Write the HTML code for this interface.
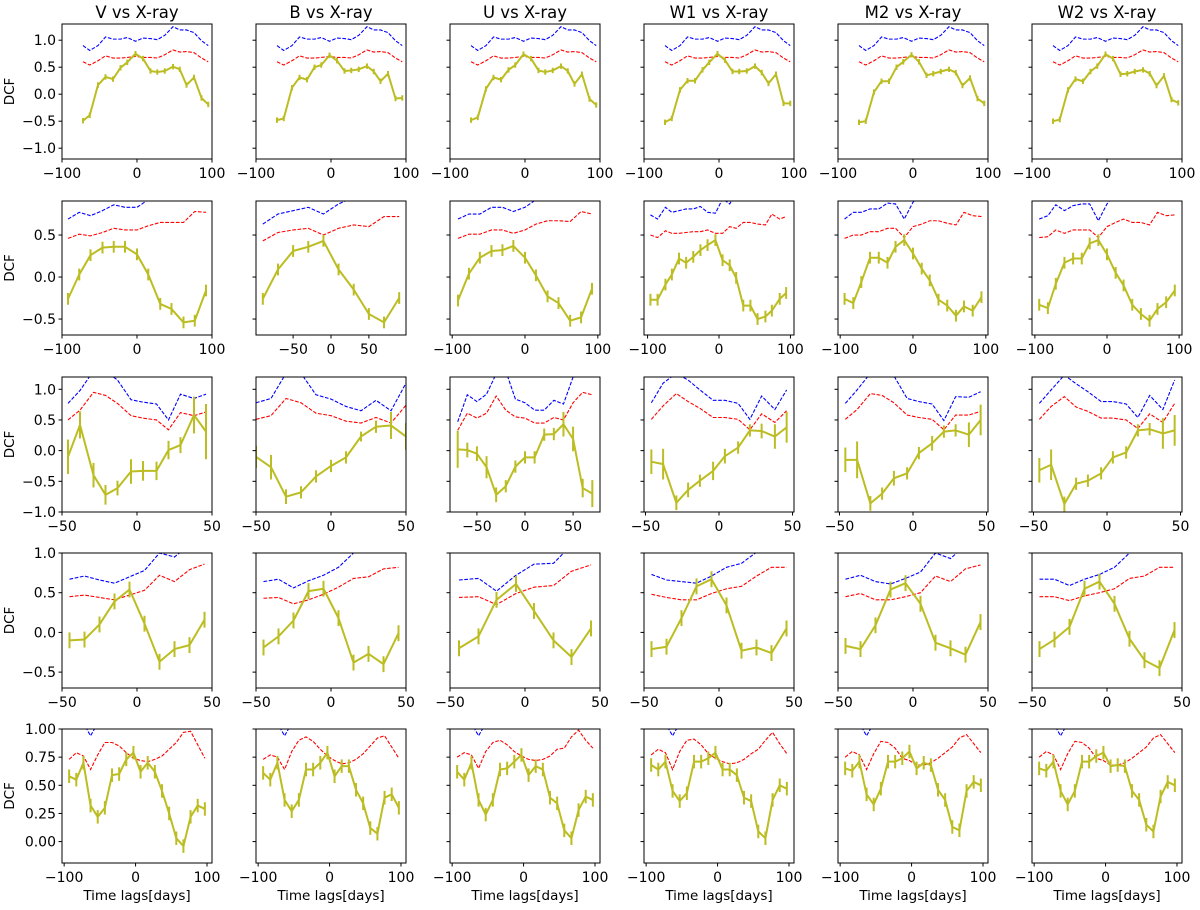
<!DOCTYPE html>
<html><head><meta charset="utf-8"><title>DCF grid</title>
<style>html,body{margin:0;padding:0;background:#fff}svg{display:block}text{font-family:"DejaVu Sans","Liberation Sans",sans-serif;fill:#000}</style>
</head><body>
<svg id="fig" width="1200" height="910" viewBox="0 0 1200 910" xmlns="http://www.w3.org/2000/svg"></svg>
<script>
// ---------- data ----------
const TITLES = ["V vs X-ray","B vs X-ray","U vs X-ray","W1 vs X-ray","M2 vs X-ray","W2 vs X-ray"];
const ROW_ERR = [0.05,0.07,0.15,0.1,0.06];

// Row 1
const R1_LAGS = [-72,-63,-52,-42,-32,-22,-13,-2,8,18,27,37,48,57,66,76,86,95];
const R1_V  = [-0.49,-0.39,0.17,0.32,0.28,0.49,0.59,0.75,0.66,0.43,0.41,0.43,0.51,0.46,0.17,0.31,-0.07,-0.19];
const R1_B  = [-0.48,-0.45,0.12,0.31,0.27,0.5,0.54,0.72,0.62,0.43,0.44,0.46,0.52,0.42,0.24,0.38,-0.08,-0.07];
const R1_U  = [-0.48,-0.43,0.1,0.31,0.27,0.45,0.54,0.74,0.66,0.44,0.41,0.44,0.52,0.43,0.19,0.37,-0.09,-0.2];
const R1_W1 = [-0.52,-0.45,0.08,0.25,0.25,0.45,0.59,0.75,0.63,0.42,0.42,0.43,0.52,0.4,0.2,0.37,-0.17,-0.17];
const R1_M2 = [-0.52,-0.5,0.04,0.24,0.24,0.5,0.6,0.73,0.6,0.35,0.38,0.42,0.46,0.4,0.16,0.3,-0.08,-0.17];
const R1_W2 = [-0.5,-0.47,0.08,0.28,0.24,0.42,0.52,0.74,0.66,0.37,0.38,0.42,0.45,0.38,0.16,0.34,-0.1,-0.16];
const R1_RED  = [0.60,0.54,0.62,0.71,0.67,0.67,0.68,0.70,0.68,0.68,0.67,0.73,0.82,0.78,0.79,0.77,0.67,0.60];
const R1_BLUE = [0.90,0.81,0.90,1.06,1.02,1.02,1.05,0.98,1.04,1.03,1.01,1.09,1.25,1.19,1.19,1.14,0.99,0.90];

// Row 2
const R2_LAGS13 = [-92,-77,-62,-46,-31,-16,0,15,31,46,62,77,92];
const R2_LAGS10 = [-90,-70,-50,-30,-10,10,30,50,70,90];
const R2_LAGS20 = [-96,-86,-75,-66,-56,-46,-36,-26,-16,-5,5,15,24,34,44,54,65,74,85,94];
const R2_LAGS17 = [-94,-82,-71,-59,-47,-35,-24,-12,0,12,23,35,47,59,70,82,94];
const R2_V  = [-0.26,0.03,0.26,0.35,0.36,0.36,0.27,0.03,-0.32,-0.38,-0.54,-0.52,-0.16];
const R2_V_RED  = [0.46,0.51,0.49,0.53,0.58,0.56,0.56,0.61,0.65,0.65,0.65,0.78,0.77];
const R2_V_BLUE = [0.69,0.77,0.73,0.79,0.86,0.83,0.83,0.92,1.0,1.05,1.1,1.1,1.1];
const R2_B  = [-0.26,0.09,0.31,0.36,0.43,0.09,-0.15,-0.44,-0.54,-0.25];
const R2_B_RED  = [0.43,0.53,0.56,0.58,0.5,0.58,0.62,0.6,0.72,0.72];
const R2_B_BLUE = [0.63,0.75,0.79,0.83,0.75,0.87,0.95,1.0,1.0,1.0];
const R2_U  = [-0.28,0.04,0.23,0.31,0.32,0.37,0.23,0.02,-0.23,-0.31,-0.52,-0.48,-0.14];
const R2_U_RED  = [0.46,0.51,0.51,0.56,0.56,0.52,0.56,0.63,0.67,0.67,0.66,0.78,0.75];
const R2_U_BLUE = [0.69,0.75,0.75,0.83,0.83,0.78,0.83,0.92,1.0,1.05,1.1,1.1,1.1];
const R2_W1 = [-0.27,-0.27,-0.09,0.03,0.22,0.17,0.24,0.32,0.38,0.44,0.2,0.14,-0.01,-0.34,-0.34,-0.5,-0.47,-0.4,-0.26,-0.19];
const R2_W1_RED  = [0.5,0.47,0.55,0.52,0.52,0.53,0.54,0.54,0.56,0.52,0.52,0.6,0.58,0.65,0.65,0.63,0.62,0.75,0.69,0.72];
const R2_W1_BLUE = [0.74,0.69,0.83,0.77,0.79,0.81,0.81,0.84,0.77,0.76,0.93,0.87,1.0,1.05,1.1,1.1,1.1,1.1,1.1,1.1];
const R2_M2 = [-0.26,-0.31,-0.06,0.23,0.23,0.17,0.36,0.44,0.28,0.1,-0.04,-0.27,-0.34,-0.46,-0.35,-0.4,-0.24];
const R2_M2_RED  = [0.46,0.5,0.5,0.54,0.54,0.58,0.58,0.47,0.6,0.63,0.67,0.67,0.64,0.62,0.77,0.73,0.72];
const R2_M2_BLUE = [0.69,0.77,0.77,0.81,0.81,0.88,0.87,0.69,0.89,1.0,1.05,1.1,1.1,1.1,1.1,1.1,1.1];
const R2_W2 = [-0.33,-0.37,-0.08,0.17,0.22,0.22,0.4,0.44,0.27,0.05,-0.1,-0.33,-0.44,-0.52,-0.38,-0.3,-0.16];
const R2_W2_RED  = [0.47,0.48,0.56,0.52,0.56,0.56,0.56,0.47,0.6,0.65,0.69,0.65,0.65,0.62,0.77,0.73,0.74];
const R2_W2_BLUE = [0.69,0.73,0.86,0.79,0.85,0.87,0.87,0.67,0.87,1.0,1.05,1.1,1.1,1.1,1.1,1.1,1.1];

// Row 3
const R3_LAGS12 = [-46,-38,-29,-21,-13,-4,4,13,21,29,38,46];
const R3_LAGS11 = [-50,-40,-30,-20,-10,0,10,20,30,40,50];
const R3_LAGS15 = [-70,-60,-50,-40,-30,-20,-10,0,10,20,30,40,50,60,70];
const R3_V  = [-0.1,0.42,-0.4,-0.72,-0.61,-0.34,-0.33,-0.33,0.01,0.09,0.58,0.31];
const R3_V_ERR = [0.28,0.22,0.2,0.16,0.12,0.2,0.16,0.15,0.15,0.13,0.3,0.45];
const R3_V_RED  = [0.5,0.66,0.95,0.9,0.77,0.57,0.53,0.5,0.34,0.62,0.57,0.63];
const R3_V_BLUE = [0.77,0.98,1.3,1.3,1.15,0.83,0.79,0.76,0.5,0.92,0.85,0.92];
const R3_B  = [-0.1,-0.27,-0.75,-0.68,-0.42,-0.25,-0.11,0.23,0.39,0.41,0.23];
const R3_B_ERR = [0.18,0.2,0.12,0.1,0.1,0.1,0.1,0.08,0.1,0.22,0.22];
const R3_B_RED  = [0.51,0.57,0.85,0.78,0.61,0.57,0.48,0.45,0.54,0.45,0.74];
const R3_B_BLUE = [0.78,0.85,1.26,1.26,0.91,0.84,0.72,0.65,0.82,0.65,1.1];
const R3_U  = [0.02,0.01,-0.05,-0.27,-0.72,-0.58,-0.26,-0.11,-0.11,0.26,0.27,0.43,0.19,-0.61,-0.7];
const R3_U_ERR = [0.3,0.12,0.12,0.18,0.12,0.1,0.1,0.1,0.1,0.1,0.1,0.2,0.2,0.15,0.22];
const R3_U_RED  = [0.33,0.61,0.53,0.61,0.89,0.66,0.55,0.53,0.45,0.45,0.54,0.5,0.78,0.95,0.91];
const R3_U_BLUE = [0.47,0.91,0.8,0.92,1.25,1.3,0.84,0.78,0.66,0.66,0.82,0.76,1.2,1.3,1.3];
const R3_W1 = [-0.18,-0.22,-0.85,-0.64,-0.49,-0.33,-0.09,0.05,0.33,0.32,0.23,0.38];
const R3_W1_ERR = [0.2,0.25,0.12,0.12,0.1,0.15,0.12,0.1,0.1,0.12,0.2,0.25];
const R3_W1_RED  = [0.51,0.73,0.93,0.8,0.69,0.54,0.54,0.51,0.34,0.6,0.46,0.65];
const R3_W1_BLUE = [0.78,1.1,1.26,1.15,0.99,0.82,0.82,0.77,0.51,0.89,0.67,0.99];
const R3_M2 = [-0.15,-0.15,-0.86,-0.7,-0.45,-0.37,-0.04,0.12,0.31,0.33,0.26,0.5];
const R3_M2_ERR = [0.2,0.3,0.12,0.1,0.12,0.1,0.1,0.12,0.1,0.1,0.2,0.25];
const R3_M2_RED  = [0.51,0.67,0.93,0.9,0.78,0.58,0.54,0.51,0.34,0.58,0.58,0.64];
const R3_M2_BLUE = [0.77,0.99,1.26,1.26,1.22,0.85,0.8,0.76,0.49,0.88,0.87,0.96];
const R3_W2 = [-0.32,-0.23,-0.87,-0.54,-0.49,-0.37,-0.11,-0.03,0.33,0.35,0.28,0.33];
const R3_W2_ERR = [0.2,0.25,0.12,0.1,0.1,0.1,0.1,0.1,0.1,0.1,0.25,0.25];
const R3_W2_RED  = [0.51,0.72,0.88,0.71,0.64,0.53,0.53,0.5,0.36,0.6,0.46,0.77];
const R3_W2_BLUE = [0.77,0.99,1.23,1.09,0.96,0.8,0.8,0.76,0.54,0.9,0.67,1.15];

// Row 4
const R4_LAGS10 = [-45,-35,-25,-15,-5,5,15,25,35,45];
const R4_LAGS8 = [-44,-31,-19,-6,6,19,31,44];
const R4_V  = [-0.1,-0.09,0.1,0.39,0.54,0.11,-0.37,-0.21,-0.16,0.16];
const R4_V_RED  = [0.45,0.47,0.44,0.41,0.47,0.53,0.72,0.64,0.79,0.86];
const R4_V_BLUE = [0.67,0.71,0.66,0.62,0.7,0.78,1.0,0.95,1.1,1.2];
const R4_B  = [-0.19,-0.05,0.15,0.52,0.55,0.18,-0.38,-0.27,-0.4,-0.01];
const R4_B_RED  = [0.43,0.44,0.36,0.41,0.48,0.57,0.68,0.7,0.8,0.82];
const R4_B_BLUE = [0.64,0.67,0.56,0.65,0.72,0.82,1.0,1.1,1.2,1.2];
const R4_U  = [-0.2,-0.05,0.41,0.61,0.27,-0.1,-0.31,0.05];
const R4_U_RED  = [0.44,0.45,0.35,0.49,0.57,0.59,0.77,0.85];
const R4_U_BLUE = [0.66,0.68,0.52,0.72,0.86,0.87,1.1,1.2];
const R4_W1 = [-0.21,-0.18,0.18,0.58,0.67,0.34,-0.23,-0.19,-0.26,0.05];
const R4_W1_RED  = [0.48,0.44,0.41,0.41,0.49,0.55,0.58,0.71,0.82,0.82];
const R4_W1_BLUE = [0.73,0.66,0.64,0.62,0.71,0.82,0.87,1.01,1.1,1.2];
const R4_M2 = [-0.17,-0.21,0.09,0.54,0.62,0.36,-0.13,-0.2,-0.28,0.13];
const R4_M2_RED  = [0.45,0.49,0.41,0.41,0.45,0.5,0.71,0.64,0.8,0.85];
const R4_M2_BLUE = [0.67,0.72,0.64,0.61,0.68,0.76,1.0,0.93,1.1,1.2];
const R4_W2 = [-0.21,-0.09,0.07,0.55,0.64,0.36,-0.08,-0.35,-0.45,0.03];
const R4_W2_RED  = [0.45,0.45,0.4,0.46,0.5,0.55,0.68,0.71,0.82,0.82];
const R4_W2_BLUE = [0.67,0.67,0.59,0.67,0.73,0.82,1.0,1.1,1.2,1.2];

// Row 5
const R5_LAGS = [-93,-83,-73,-63,-53,-43,-33,-23,-13,-3,7,17,27,37,47,57,67,77,87,97];
const R5_V  = [0.58,0.55,0.7,0.32,0.22,0.3,0.59,0.6,0.73,0.79,0.62,0.7,0.62,0.45,0.25,0.03,-0.04,0.22,0.32,0.29];
const R5_V_RED = [0.73,0.79,0.76,0.64,0.77,0.88,0.88,0.85,0.79,0.74,0.72,0.71,0.73,0.76,0.82,0.88,0.97,0.98,0.86,0.74];
const R5_B  = [0.61,0.55,0.7,0.37,0.27,0.37,0.64,0.64,0.7,0.79,0.58,0.67,0.67,0.46,0.34,0.12,0.07,0.39,0.42,0.3];
const R5_B_RED = [0.73,0.77,0.75,0.64,0.8,0.9,0.93,0.89,0.82,0.76,0.72,0.69,0.7,0.73,0.78,0.85,0.92,0.94,0.84,0.74];
const R5_U  = [0.62,0.55,0.7,0.37,0.24,0.37,0.64,0.65,0.71,0.77,0.59,0.67,0.64,0.39,0.34,0.1,0.03,0.28,0.4,0.37];
const R5_U_RED = [0.75,0.79,0.77,0.65,0.8,0.88,0.9,0.86,0.8,0.76,0.73,0.72,0.73,0.76,0.82,0.83,0.93,0.99,0.9,0.83];
const R5_W1 = [0.68,0.64,0.71,0.45,0.36,0.43,0.71,0.71,0.74,0.79,0.64,0.64,0.59,0.39,0.36,0.09,0.03,0.37,0.5,0.47];
const R5_W1_RED = [0.77,0.82,0.79,0.64,0.8,0.9,0.91,0.86,0.78,0.74,0.71,0.69,0.7,0.73,0.78,0.82,0.9,0.97,0.87,0.78];
const R5_M2 = [0.65,0.63,0.71,0.42,0.33,0.47,0.71,0.71,0.74,0.8,0.65,0.7,0.68,0.46,0.37,0.13,0.1,0.45,0.53,0.5];
const R5_M2_RED = [0.75,0.8,0.77,0.64,0.78,0.89,0.88,0.83,0.74,0.72,0.68,0.68,0.7,0.74,0.79,0.84,0.92,0.95,0.87,0.79];
const R5_W2 = [0.65,0.63,0.71,0.45,0.33,0.45,0.71,0.71,0.76,0.79,0.67,0.68,0.67,0.45,0.37,0.15,0.09,0.4,0.53,0.5];
const R5_W2_RED = [0.75,0.8,0.77,0.64,0.78,0.89,0.88,0.83,0.74,0.72,0.68,0.68,0.7,0.74,0.79,0.84,0.92,0.95,0.87,0.79];
const R5_BLUE = [1.2,1.15,1.05,0.94,1.05,1.2,1.3,1.3,1.3,1.3,1.3,1.3,1.3,1.3,1.3,1.3,1.3,1.3,1.3,1.3];

// axes settings
const ROW_YLIM = [[-1.2,1.3],[-0.69,0.905],[-1.0,1.2],[-0.7,1.0],[-0.19,1.0]];
const ROW_YTICKS = [[-1,-0.5,0,0.5,1],[-0.5,0,0.5],[-1,-0.5,0,0.5,1],[-0.5,0,0.5,1],[0,0.25,0.5,0.75,1]];
const ROW_YLABELS = [["−1.0","−0.5","0.0","0.5","1.0"],["−0.5","0.0","0.5"],["−1.0","−0.5","0.0","0.5","1.0"],["−0.5","0.0","0.5","1.0"],["0.00","0.25","0.50","0.75","1.00"]];
const ROW_XLIM = [
 [[-100,100],[-100,100],[-100,100],[-100,100],[-100,100],[-100,100]],
 [[-100,100],[-99,99],[-103,103],[-105,105],[-103,103],[-104,104]],
 [[-50,50],[-50,50],[-78,78],[-51,51],[-51,51],[-51,51]],
 [[-50,50],[-50,50],[-50,50],[-50,50],[-50,50],[-50,50]],
 [[-103,107],[-103,107],[-103,107],[-103,107],[-103,107],[-103,107]]
];
const X_TICKS_100 = [-100,0,100], X_LABELS_100 = ["−100","0","100"];
const X_TICKS_50 = [-50,0,50], X_LABELS_50 = ["−50","0","50"];

const PANELS = [
 [[R1_LAGS,R1_V,null,R1_RED,R1_BLUE],[R1_LAGS,R1_B,null,R1_RED,R1_BLUE],[R1_LAGS,R1_U,null,R1_RED,R1_BLUE],[R1_LAGS,R1_W1,null,R1_RED,R1_BLUE],[R1_LAGS,R1_M2,null,R1_RED,R1_BLUE],[R1_LAGS,R1_W2,null,R1_RED,R1_BLUE]],
 [[R2_LAGS13,R2_V,null,R2_V_RED,R2_V_BLUE],[R2_LAGS10,R2_B,null,R2_B_RED,R2_B_BLUE],[R2_LAGS13,R2_U,null,R2_U_RED,R2_U_BLUE],[R2_LAGS20,R2_W1,null,R2_W1_RED,R2_W1_BLUE],[R2_LAGS17,R2_M2,null,R2_M2_RED,R2_M2_BLUE],[R2_LAGS17,R2_W2,null,R2_W2_RED,R2_W2_BLUE]],
 [[R3_LAGS12,R3_V,R3_V_ERR,R3_V_RED,R3_V_BLUE],[R3_LAGS11,R3_B,R3_B_ERR,R3_B_RED,R3_B_BLUE],[R3_LAGS15,R3_U,R3_U_ERR,R3_U_RED,R3_U_BLUE],[R3_LAGS12,R3_W1,R3_W1_ERR,R3_W1_RED,R3_W1_BLUE],[R3_LAGS12,R3_M2,R3_M2_ERR,R3_M2_RED,R3_M2_BLUE],[R3_LAGS12,R3_W2,R3_W2_ERR,R3_W2_RED,R3_W2_BLUE]],
 [[R4_LAGS10,R4_V,null,R4_V_RED,R4_V_BLUE],[R4_LAGS10,R4_B,null,R4_B_RED,R4_B_BLUE],[R4_LAGS8,R4_U,null,R4_U_RED,R4_U_BLUE],[R4_LAGS10,R4_W1,null,R4_W1_RED,R4_W1_BLUE],[R4_LAGS10,R4_M2,null,R4_M2_RED,R4_M2_BLUE],[R4_LAGS10,R4_W2,null,R4_W2_RED,R4_W2_BLUE]],
 [[R5_LAGS,R5_V,null,R5_V_RED,R5_BLUE],[R5_LAGS,R5_B,null,R5_B_RED,R5_BLUE],[R5_LAGS,R5_U,null,R5_U_RED,R5_BLUE],[R5_LAGS,R5_W1,null,R5_W1_RED,R5_BLUE],[R5_LAGS,R5_M2,null,R5_M2_RED,R5_BLUE],[R5_LAGS,R5_W2,null,R5_W2_RED,R5_BLUE]]
];

// ---------- drawing ----------
const NS = "http://www.w3.org/2000/svg";
const svg = document.getElementById('fig');
const BOX_L = [62,256,450,644,838,1032], BOX_W = 150;
const BOX_T = [24,201,377,553,729], BOX_B = [159,335,512,688,863];
function mk(tag, attrs, parent){ const e=document.createElementNS(NS,tag); for(const k in attrs) e.setAttribute(k,attrs[k]); (parent||svg).appendChild(e); return e; }
const defs = mk('defs',{});

for(let r=0;r<5;r++){
 for(let c=0;c<6;c++){
  const [lags,dcf,errArr,red,blue] = PANELS[r][c];
  const L=BOX_L[c], T=BOX_T[r], B=BOX_B[r];
  const [x0,x1]=ROW_XLIM[r][c], [y0,y1]=ROW_YLIM[r];
  const sx = v => L + (v-x0)/(x1-x0)*BOX_W;
  const sy = v => B - (v-y0)/(y1-y0)*(B-T);
  const g = mk('g',{});
  
  
  const cp = mk('clipPath',{id:'cp'+r+c},defs);
  mk('rect',{x:L,y:T,width:BOX_W,height:B-T},cp);
  const plot = mk('g',{'clip-path':'url(#cp'+r+c+')'},g);
  const lineOf = (ys) => ys.map((v,i)=>(i?'L':'M')+sx(lags[i]).toFixed(2)+','+sy(v).toFixed(2)).join(' ');
  const bl = mk('path',{d:lineOf(blue),fill:'none',stroke:'#0000ff','stroke-width':1.1,'stroke-dasharray':'3.7,1.6'},plot);
  
  
  const rl = mk('path',{d:lineOf(red),fill:'none',stroke:'#ff0000','stroke-width':1.1,'stroke-dasharray':'3.7,1.6'},plot);
  
  
  const yl = mk('path',{d:lineOf(dcf),fill:'none',stroke:'#bcbd22','stroke-width':2,'stroke-linejoin':'round'},plot);
  
  
  dcf.forEach((v,i)=>{
   const e = errArr ? errArr[i] : ROW_ERR[r];
   const eb = mk('line',{x1:sx(lags[i]),x2:sx(lags[i]),y1:sy(v-e),y2:sy(v+e),stroke:'#bcbd22','stroke-width':2},plot);
   
   
  });
  const fr = mk('rect',{x:L,y:T,width:BOX_W,height:B-T,fill:'none',stroke:'#000','stroke-width':1},g);
  
  
  ROW_YTICKS[r].forEach((t,i)=>{
   const y=sy(t);
   mk('line',{x1:L-3.5,x2:L,y1:y,y2:y,stroke:'#000','stroke-width':1},g);
   if(c===0){
    const tx = mk('text',{x:L-6,y:y+5,'text-anchor':'end','font-size':14},g);
    tx.textContent = ROW_YLABELS[r][i];
    
    
   }
  });
  const xt = (Math.abs(x1)>=90)? (r===1&&c===1? X_TICKS_50 : X_TICKS_100) : X_TICKS_50;
  const xlb = (Math.abs(x1)>=90)? (r===1&&c===1? X_LABELS_50 : X_LABELS_100) : X_LABELS_50;
  xt.forEach((t,i)=>{
   const x=sx(t);
   mk('line',{x1:x,x2:x,y1:B,y2:B+3.5,stroke:'#000','stroke-width':1},g);
   const tx = mk('text',{x:x,y:B+19,'text-anchor':'middle','font-size':14},g);
   tx.textContent = xlb[i];
   
   
  });
  if(r===0){
   const tt = mk('text',{x:L+BOX_W/2,y:18,'text-anchor':'middle','font-size':16.5},g);
   tt.textContent = TITLES[c];
   
   
  }
  if(r===4){
   const xl = mk('text',{x:L+BOX_W/2,y:B+37,'text-anchor':'middle','font-size':13.5},g);
   xl.textContent = 'Time lags[days]';
   
   
  }
  if(c===0){
   const cy=(T+B)/2;
   const ylab = mk('text',{x:14,y:cy,'text-anchor':'middle','font-size':13.5,transform:'rotate(-90 14 '+cy+')'},g);
   ylab.textContent = 'DCF';
   
   
  }
 }
}
</script>
</body></html>
